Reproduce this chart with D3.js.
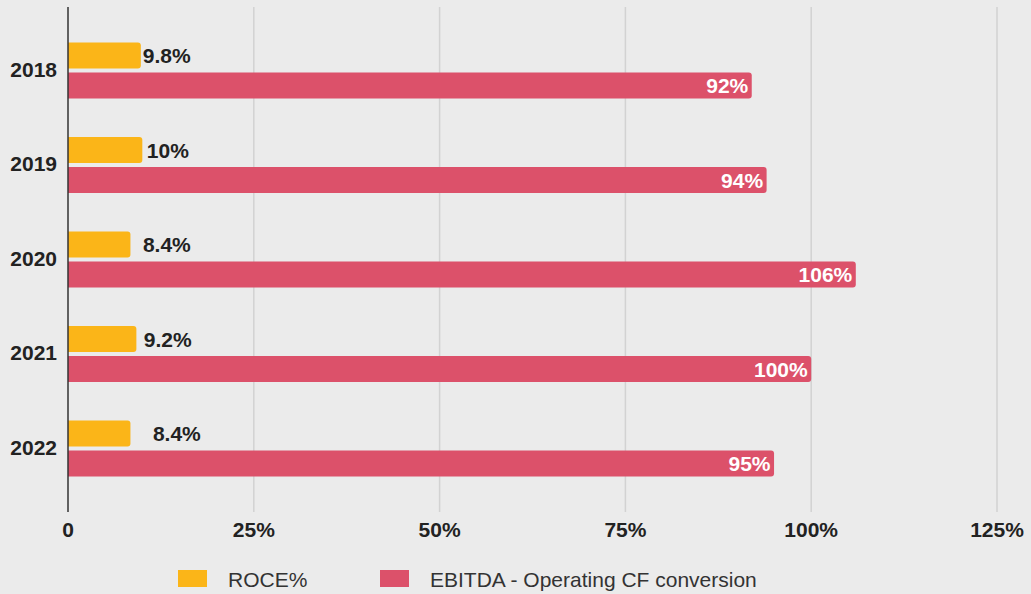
<!DOCTYPE html>
<html>
<head>
<meta charset="utf-8">
<script src="https://cdn.jsdelivr.net/npm/d3@7"></script>
<style>
  html, body { margin: 0; padding: 0; background: #ebebeb; }
  svg { display: block; font-family: "Liberation Sans", Arial, Helvetica, sans-serif; }
</style>
</head>
<body>
<svg id="chart" width="1031" height="594"></svg>
<script>
// Data
const years = ["2018", "2019", "2020", "2021", "2022"];
const roce = [9.8, 10, 8.4, 9.2, 8.4];
const ebitdaConversion = [92, 94, 106, 100, 95];
const xTicks = [0, 25, 50, 75, 100, 125];
const seriesNames = ["ROCE%", "EBITDA - Operating CF conversion"];
// extra gap between each ROCE bar and its value label
const roceLabelGap = [2, 4.5, 12.5, 7.5, 22.5];

const colors = { roce: "#fbb518", ebitda: "#dc516a", grid: "#d2d2d2", axis: "#333333", text: "#222222" };

const svg = d3.select("#chart");
const plotTop = 7, plotBottom = 512;

const x = d3.scaleLinear().domain([0, 125]).range([68, 997]);
const y = d3.scaleBand().domain(years).range([23.75, 496.25]).paddingInner(0).paddingOuter(0);
const barH = 26, barGap = 4;
const labelSize = 21;

// path for a bar with rounded right end
function barPath(x0, x1, y0, h, r) {
  r = Math.min(r, (x1 - x0) / 2, h / 2);
  return `M${x0},${y0}H${x1 - r}Q${x1},${y0} ${x1},${y0 + r}V${y0 + h - r}Q${x1},${y0 + h} ${x1 - r},${y0 + h}H${x0}Z`;
}

// vertical grid lines
svg.append("g").selectAll("line")
  .data(xTicks.filter(d => d > 0))
  .join("line")
  .attr("x1", d => x(d)).attr("x2", d => x(d))
  .attr("y1", plotTop).attr("y2", plotBottom)
  .attr("stroke", colors.grid).attr("stroke-width", 1.5);

// x tick labels
svg.append("g").selectAll("text")
  .data(xTicks)
  .join("text")
  .attr("x", d => x(d)).attr("y", 537)
  .attr("text-anchor", "middle")
  .attr("font-size", labelSize).attr("font-weight", "bold")
  .attr("fill", colors.text)
  .text(d => d === 0 ? "0" : d + "%");

// category labels
svg.append("g").selectAll("text")
  .data(years)
  .join("text")
  .attr("x", 57).attr("y", d => y(d) + y.bandwidth() / 2 + 5.5)
  .attr("text-anchor", "end")
  .attr("font-size", labelSize).attr("font-weight", "bold")
  .attr("fill", colors.text)
  .text(d => d);

const groupTop = d => y(d) + y.bandwidth() / 2 - barH - barGap / 2 - 0.5;

// ROCE bars
svg.append("g").selectAll("path")
  .data(years)
  .join("path")
  .attr("d", (d, i) => barPath(x(0), x(roce[i]), groupTop(d), barH, 3))
  .attr("fill", colors.roce);

// EBITDA conversion bars
svg.append("g").selectAll("path")
  .data(years)
  .join("path")
  .attr("d", (d, i) => barPath(x(0), x(ebitdaConversion[i]), groupTop(d) + barH + barGap, barH, 3))
  .attr("fill", colors.ebitda);

// ROCE value labels
svg.append("g").selectAll("text")
  .data(years)
  .join("text")
  .attr("x", (d, i) => x(roce[i]) + roceLabelGap[i])
  .attr("y", d => groupTop(d) + barH / 2)
  .attr("dy", "0.36em")
  .attr("font-size", labelSize).attr("font-weight", "bold")
  .attr("fill", colors.text)
  .text((d, i) => roce[i] + "%");

// EBITDA value labels inside the bars
svg.append("g").selectAll("text")
  .data(years)
  .join("text")
  .attr("x", (d, i) => x(ebitdaConversion[i]) - 3.5)
  .attr("y", d => groupTop(d) + barH + barGap + barH / 2)
  .attr("dy", "0.36em")
  .attr("text-anchor", "end")
  .attr("font-size", labelSize).attr("font-weight", "bold")
  .attr("fill", "#ffffff")
  .text((d, i) => ebitdaConversion[i] + "%");

// value axis line
svg.append("line")
  .attr("x1", x(0)).attr("x2", x(0))
  .attr("y1", plotTop).attr("y2", plotBottom)
  .attr("stroke", colors.axis).attr("stroke-width", 1.5);

// legend
const legend = svg.append("g");
const legendItems = [
  { name: seriesNames[0], color: colors.roce, sx: 178, tx: 228 },
  { name: seriesNames[1], color: colors.ebitda, sx: 380, tx: 430 }
];
legend.selectAll("rect")
  .data(legendItems)
  .join("rect")
  .attr("x", d => d.sx).attr("y", 570)
  .attr("width", 29).attr("height", 17)
  .attr("fill", d => d.color);
legend.selectAll("text")
  .data(legendItems)
  .join("text")
  .attr("x", d => d.tx).attr("y", 587)
  .attr("font-size", 21)
  .attr("fill", "#333333")
  .text(d => d.name);
</script>
</body>
</html>
